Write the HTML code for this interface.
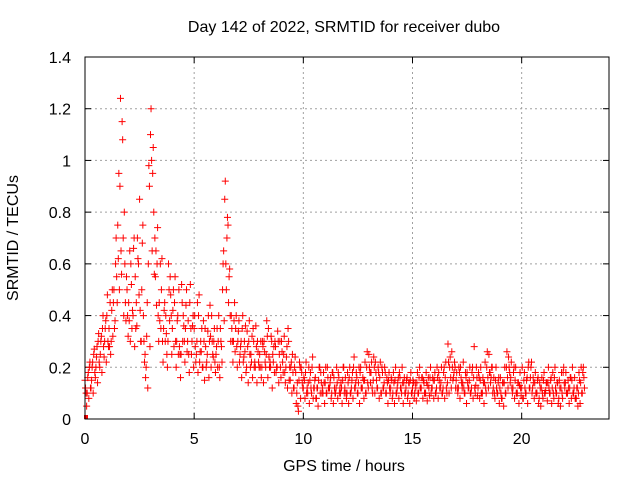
<!DOCTYPE html>
<html><head><meta charset="utf-8"><style>
body{margin:0;background:#fff}
svg{display:block;font-family:"Liberation Sans",sans-serif;font-size:16px}
</style></head><body>
<svg id="chart" width="640" height="480">
<text x="344" y="32" text-anchor="middle">Day 142 of 2022, SRMTID for receiver dubo</text>
<text x="344" y="471" text-anchor="middle">GPS time / hours</text>
<text transform="translate(18,238) rotate(-90)" text-anchor="middle">SRMTID / TECUs</text>
<g id="grid"></g><g id="ticks"></g><g id="pts"></g>
<rect x="85" y="57" width="524" height="362" fill="none" stroke="#000" stroke-width="1"/>
</svg>
<script>
const xTicks=[0,5,10,15,20];
const yTicks=[0,0.2,0.4,0.6,0.8,1,1.2,1.4];
const yTickLabels=["0","0.2","0.4","0.6","0.8","1","1.2","1.4"];
const step=0.1;
const seriesA=[0.15,0.1,0.2,0.15,0.25,0.2,0.3,0.25,0.35,0.3,
0.4,0.35,0.3,0.45,0.6,0.75,0.9,1.15,0.8,0.55,
0.45,0.6,0.4,0.55,0.7,0.85,0.5,0.3,0.2,0.6,
1.1,0.95,0.7,0.6,0.45,0.5,0.35,0.4,0.3,0.55,
0.35,0.45,0.3,0.5,0.25,0.4,0.35,0.3,0.45,0.3,
0.35,0.25,0.4,0.3,0.2,0.35,0.25,0.3,0.4,0.3,
0.25,0.3,0.35,0.5,0.85,0.7,0.55,0.4,0.3,0.35,
0.3,0.25,0.35,0.3,0.2,0.3,0.25,0.35,0.2,0.3,
0.25,0.2,0.3,0.25,0.35,0.2,0.25,0.3,0.2,0.25,
0.3,0.25,0.2,0.35,0.15,0.25,0.2,0.1,0.15,0.2,
0.12,0.18,0.1,0.15,0.2,0.12,0.08,0.15,0.18,0.1,
0.14,0.2,0.12,0.1,0.16,0.12,0.18,0.1,0.15,0.12,
0.1,0.16,0.12,0.2,0.14,0.1,0.18,0.12,0.15,0.2,
0.25,0.18,0.15,0.22,0.12,0.16,0.2,0.14,0.1,0.15,
0.12,0.1,0.15,0.12,0.18,0.1,0.14,0.12,0.1,0.15,
0.12,0.1,0.14,0.16,0.12,0.15,0.1,0.13,0.16,0.12,
0.15,0.12,0.18,0.14,0.12,0.16,0.14,0.2,0.26,0.18,
0.15,0.12,0.2,0.14,0.1,0.18,0.15,0.12,0.16,0.13,
0.12,0.15,0.1,0.14,0.2,0.25,0.16,0.12,0.15,0.1,
0.12,0.08,0.14,0.2,0.24,0.16,0.12,0.15,0.1,0.13,
0.12,0.15,0.1,0.2,0.16,0.12,0.14,0.1,0.08,0.12,
0.15,0.11,0.14,0.1,0.12,0.16,0.1,0.08,0.12,0.18,
0.14,0.1,0.12,0.15,0.12,0.08,0.1,0.14,0.18];
const seriesB=[0.1,0.18,0.12,0.22,0.18,0.28,0.22,0.32,0.28,0.38,
0.3,0.45,0.5,0.35,0.55,0.95,0.65,0.7,0.45,0.4,
0.65,0.35,0.7,0.45,0.6,0.3,0.75,0.25,0.45,0.9,
1.0,0.8,0.65,0.4,0.6,0.3,0.45,0.25,0.5,0.4,
0.5,0.3,0.4,0.25,0.45,0.3,0.5,0.25,0.35,0.4,
0.28,0.45,0.22,0.35,0.3,0.2,0.4,0.32,0.25,0.22,
0.35,0.2,0.28,0.65,0.6,0.75,0.4,0.3,0.45,0.28,
0.38,0.3,0.22,0.36,0.28,0.25,0.32,0.2,0.28,0.22,
0.3,0.28,0.22,0.32,0.2,0.3,0.28,0.18,0.3,0.2,
0.22,0.18,0.28,0.15,0.22,0.12,0.18,0.05,0.2,0.14,
0.15,0.1,0.2,0.12,0.08,0.16,0.12,0.2,0.1,0.14,
0.1,0.12,0.16,0.18,0.1,0.14,0.1,0.12,0.2,0.1,
0.14,0.1,0.18,0.12,0.16,0.2,0.12,0.15,0.1,0.14,
0.18,0.12,0.2,0.15,0.18,0.1,0.12,0.18,0.14,0.12,
0.15,0.14,0.1,0.16,0.12,0.14,0.1,0.16,0.14,0.1,
0.14,0.12,0.1,0.12,0.16,0.1,0.14,0.12,0.1,0.15,
0.1,0.16,0.12,0.1,0.2,0.12,0.22,0.16,0.15,0.2,
0.12,0.18,0.14,0.12,0.16,0.12,0.1,0.2,0.12,0.16,
0.16,0.1,0.14,0.12,0.16,0.18,0.2,0.1,0.12,0.16,
0.1,0.14,0.1,0.16,0.18,0.12,0.2,0.1,0.14,0.12,
0.08,0.12,0.16,0.12,0.22,0.14,0.1,0.16,0.12,0.1,
0.1,0.14,0.12,0.16,0.1,0.12,0.14,0.12,0.1,0.14,
0.1,0.12,0.16,0.1,0.08,0.12,0.15,0.1,0.16];
const seriesC=[0.12,0.16,0.22,0.2,0.27,0.24,0.33,0.3,0.4,0.35,
0.48,0.28,0.42,0.5,0.7,0.62,1.24,1.08,0.6,0.5,
0.38,0.52,0.66,0.35,0.62,0.42,0.68,0.22,0.32,0.98,
1.2,1.05,0.55,0.74,0.38,0.62,0.42,0.33,0.6,0.48,
0.42,0.55,0.38,0.28,0.52,0.36,0.44,0.38,0.52,0.36,
0.4,0.3,0.48,0.26,0.38,0.28,0.34,0.44,0.3,0.35,
0.28,0.4,0.3,0.6,0.92,0.78,0.58,0.35,0.38,0.4,
0.34,0.28,0.4,0.26,0.34,0.38,0.22,0.3,0.36,0.26,
0.2,0.3,0.26,0.38,0.24,0.32,0.22,0.28,0.34,0.3,
0.26,0.32,0.24,0.3,0.2,0.18,0.24,0.14,0.22,0.18,
0.16,0.22,0.14,0.18,0.24,0.15,0.12,0.2,0.14,0.18,
0.2,0.16,0.14,0.18,0.12,0.2,0.16,0.14,0.2,0.16,
0.18,0.2,0.15,0.24,0.18,0.14,0.2,0.16,0.22,0.26,
0.2,0.22,0.24,0.18,0.2,0.22,0.18,0.2,0.16,0.18,
0.16,0.18,0.2,0.14,0.16,0.2,0.16,0.15,0.14,0.18,
0.15,0.14,0.18,0.2,0.16,0.14,0.18,0.16,0.2,0.16,
0.18,0.2,0.15,0.2,0.18,0.22,0.29,0.24,0.2,0.22,
0.18,0.2,0.16,0.22,0.18,0.14,0.2,0.18,0.28,0.2,
0.18,0.2,0.16,0.22,0.26,0.18,0.2,0.16,0.2,0.14,
0.16,0.14,0.2,0.26,0.2,0.22,0.18,0.2,0.14,0.18,
0.2,0.18,0.15,0.22,0.2,0.16,0.18,0.15,0.14,0.16,
0.18,0.14,0.2,0.15,0.18,0.2,0.14,0.15,0.18,0.2,
0.18,0.15,0.16,0.2,0.16,0.12,0.18,0.2,0.2];
const seriesD=[0.05,0.08,0.12,0.1,0.16,0.14,0.2,0.18,0.24,0.22,
0.28,0.25,0.32,0.38,0.45,0.5,0.56,0.4,0.38,0.32,
0.3,0.42,0.28,0.36,0.48,0.3,0.4,0.16,0.12,0.28,
0.65,0.56,0.44,0.3,0.35,0.22,0.3,0.2,0.38,0.25,
0.28,0.2,0.25,0.16,0.3,0.22,0.26,0.18,0.25,0.2,
0.22,0.18,0.26,0.2,0.15,0.22,0.16,0.2,0.24,0.18,
0.2,0.16,0.22,0.38,0.5,0.45,0.3,0.22,0.26,0.2,
0.22,0.16,0.24,0.18,0.14,0.2,0.16,0.22,0.14,0.2,
0.16,0.14,0.2,0.16,0.22,0.12,0.18,0.2,0.14,0.16,
0.18,0.14,0.12,0.2,0.1,0.12,0.06,0.03,0.08,0.12,
0.08,0.12,0.06,0.1,0.12,0.08,0.05,0.1,0.12,0.06,
0.1,0.12,0.08,0.06,0.1,0.08,0.12,0.06,0.1,0.08,
0.06,0.1,0.08,0.12,0.1,0.06,0.12,0.08,0.1,0.12,
0.14,0.1,0.1,0.12,0.08,0.1,0.12,0.1,0.06,0.1,
0.08,0.06,0.1,0.08,0.12,0.06,0.1,0.08,0.06,0.1,
0.08,0.07,0.1,0.12,0.08,0.1,0.07,0.09,0.12,0.08,
0.1,0.08,0.12,0.1,0.08,0.1,0.1,0.12,0.16,0.12,
0.1,0.08,0.12,0.1,0.06,0.12,0.1,0.08,0.1,0.09,
0.08,0.1,0.06,0.1,0.12,0.14,0.1,0.08,0.1,0.06,
0.08,0.05,0.1,0.12,0.14,0.1,0.08,0.1,0.06,0.09,
0.08,0.1,0.06,0.12,0.1,0.08,0.1,0.06,0.05,0.08,
0.1,0.07,0.1,0.06,0.08,0.1,0.06,0.05,0.08,0.12,
0.1,0.06,0.08,0.1,0.08,0.05,0.06,0.1,0.12];
const X0=85,X1=609,Y0=419,Y1=57,XMAX=24,YMAX=1.4;
const xs=v=>X0+(X1-X0)*v/XMAX, ys=v=>Y0-(Y0-Y1)*v/YMAX;
const NS="http://www.w3.org/2000/svg";
function mk(tag,attrs,parent){const e=document.createElementNS(NS,tag);for(const k in attrs)e.setAttribute(k,attrs[k]);parent.appendChild(e);return e;}
const grid=document.getElementById('grid'),ticks=document.getElementById('ticks'),pts=document.getElementById('pts');
yTicks.forEach((v,i)=>{const y=ys(v);
 if(i>0&&i<yTicks.length-1){const g=mk('line',{x1:X0,x2:X1,y1:y,y2:y,stroke:'#a0a0a0','stroke-dasharray':'2,3'},grid);
 
 }
 mk('line',{x1:X0,x2:X0+6,y1:y,y2:y,stroke:'#000'},ticks);mk('line',{x1:X1,x2:X1-6,y1:y,y2:y,stroke:'#000'},ticks);
 const t=mk('text',{x:X0-14,y:y+6,'text-anchor':'end'},ticks);t.textContent=yTickLabels[i];
 
 });
xTicks.forEach(v=>{const x=xs(v);
 if(v>0){const g=mk('line',{x1:x,x2:x,y1:Y0,y2:Y1,stroke:'#a0a0a0','stroke-dasharray':'2,3'},grid);
 
 }
 mk('line',{x1:x,x2:x,y1:Y0,y2:Y0-6,stroke:'#000'},ticks);mk('line',{x1:x,x2:x,y1:Y1,y2:Y1+6,stroke:'#000'},ticks);
 const t=mk('text',{x:x,y:Y0+25,'text-anchor':'middle'},ticks);t.textContent=String(v);
 
 });
function plus(t,v,color){const x=xs(t),y=ys(v);
 const p=mk('path',{d:`M${x-3.5},${y}h7M${x},${y-3.5}v7`,stroke:color,'stroke-width':1,fill:'none'},pts);
 
 }
seriesA.forEach((v,i)=>plus(i*step,v,'#ff0000'));
seriesB.forEach((v,i)=>plus(i*step+step/2,v,'#ff0000'));
seriesC.forEach((v,i)=>plus(i*step+step/4,v,'#ff0000'));
seriesD.forEach((v,i)=>plus(i*step+3*step/4,v,'#ff0000'));
const z=mk('rect',{x:xs(0)-1,y:ys(0)-4,width:4,height:4,fill:'#ff0000'},pts);


</script>
</body></html>
